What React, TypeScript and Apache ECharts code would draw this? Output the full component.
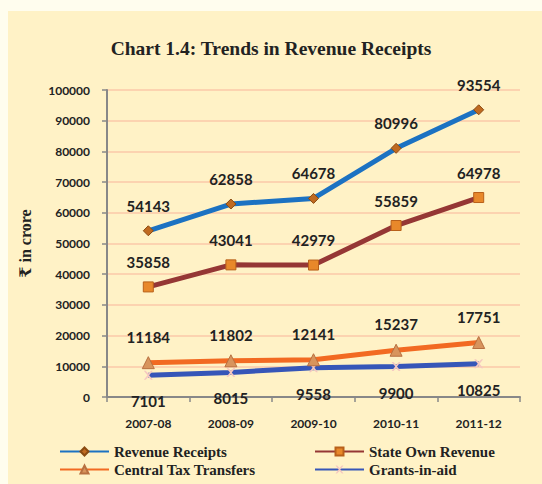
import React, { useEffect, useRef } from "react";
import * as echarts from "echarts";

const categories = ["2007-08", "2008-09", "2009-10", "2010-11", "2011-12"];
const revenueReceipts = [54143, 62858, 64678, 80996, 93554];
const stateOwnRevenue = [35858, 43041, 42979, 55859, 64978];
const centralTaxTransfers = [11184, 11802, 12141, 15237, 17751];
const grantsInAid = [7101, 8015, 9558, 9900, 10825];

const labelFont = "Lato, 'Open Sans', sans-serif";
const serif = "'Liberation Serif', 'DejaVu Serif', serif";

export default function App() {
  const ref = useRef<HTMLDivElement>(null);
  useEffect(() => {
    if (!ref.current) return;
    const chart = echarts.init(ref.current, null, { renderer: "svg" });
    const dataLabel = (pos: string, dist: number) => ({
      show: true,
      position: pos,
      distance: dist,
      fontFamily: labelFont,
      fontWeight: "bold",
      fontSize: 15,
      color: "#222",
    });
    const legendText = { fontFamily: serif, fontWeight: "bold", fontSize: 15, color: "#222" };
    chart.setOption({
      animation: false,
      backgroundColor: "#fffdee",
      graphic: [
        {
          type: "rect",
          left: 8,
          top: 11,
          shape: { width: 534, height: 473 },
          style: { fill: "#fff2c6" },
          z: -10,
        },
      ],
      title: {
        text: "Chart 1.4: Trends in Revenue Receipts",
        left: "center",
        top: 33,
        textStyle: { fontFamily: serif, fontWeight: "bold", fontSize: 19.5, color: "#222" },
      },
      grid: { left: 107, right: 22, top: 90, bottom: 87 },
      xAxis: {
        type: "category",
        data: categories,
        boundaryGap: true,
        axisLine: { lineStyle: { color: "#888", width: 2 } },
        axisTick: { show: true, length: 5, lineStyle: { color: "#888", width: 1.5 } },
        axisLabel: {
          margin: 20,
          fontFamily: labelFont,
          fontWeight: "bold",
          fontSize: 12,
          color: "#222",
        },
      },
      yAxis: {
        type: "value",
        min: 0,
        max: 100000,
        interval: 10000,
        name: "₹ in crore",
        nameLocation: "middle",
        nameRotate: 90,
        nameGap: 74,
        nameTextStyle: { fontFamily: serif, fontWeight: "bold", fontSize: 16, color: "#222" },
        axisLine: { show: true, lineStyle: { color: "#888", width: 2 } },
        axisTick: { show: true, length: 5, lineStyle: { color: "#888", width: 1.5 } },
        splitLine: { lineStyle: { color: "#fcd3b0", width: 2 } },
        axisLabel: {
          margin: 17,
          formatter: (v: number) => String(v),
          fontFamily: labelFont,
          fontWeight: "bold",
          fontSize: 12,
          color: "#222",
        },
      },
      legend: [
        {
          left: 59,
          top: 444,
          height: 40,
          padding: 0,
          orient: "vertical",
          itemWidth: 49,
          itemHeight: 10,
          itemGap: 3,
          data: ["Revenue Receipts", "Central Tax Transfers"],
          textStyle: legendText,
        },
        {
          left: 314,
          top: 444,
          height: 40,
          padding: 0,
          orient: "vertical",
          itemWidth: 49,
          itemHeight: 10,
          itemGap: 3,
          data: ["State Own Revenue", "Grants-in-aid"],
          textStyle: legendText,
        },
      ],
      series: [
        {
          name: "Revenue Receipts",
          type: "line",
          data: revenueReceipts,
          lineStyle: { color: "#1c72c2", width: 5 },
          itemStyle: { color: "#c06a20", borderColor: "#8a4a10", borderWidth: 1 },
          symbol: "diamond",
          symbolSize: 10,
          label: dataLabel("top", 12),
          z: 4,
        },
        {
          name: "State Own Revenue",
          type: "line",
          data: stateOwnRevenue,
          lineStyle: { color: "#953735", width: 5 },
          itemStyle: { color: "#e8882a", borderColor: "#b8601a", borderWidth: 1 },
          symbol: "rect",
          symbolSize: 10,
          label: dataLabel("top", 12),
          z: 3,
        },
        {
          name: "Central Tax Transfers",
          type: "line",
          data: centralTaxTransfers,
          lineStyle: { color: "#f26a22", width: 5 },
          itemStyle: { color: "#d8945c", borderColor: "#b87040", borderWidth: 1 },
          symbol: "triangle",
          symbolSize: 12,
          label: dataLabel("top", 12),
          z: 3,
        },
        {
          name: "Grants-in-aid",
          type: "line",
          data: grantsInAid,
          lineStyle: { color: "#3656b8", width: 5 },
          itemStyle: { color: "#f5c8c0" },
          symbol: "path://M0,0 L2,0 L5,3 L8,0 L10,0 L6,5 L10,10 L8,10 L5,7 L2,10 L0,10 L4,5 Z",
          symbolSize: 9,
          label: dataLabel("bottom", 14),
          z: 2,
        },
      ],
    });
    return () => chart.dispose();
  }, []);
  return (
    <div
      ref={ref}
      style={{ position: "fixed", left: 0, top: 0, width: 542, height: 484 }}
    />
  );
}
